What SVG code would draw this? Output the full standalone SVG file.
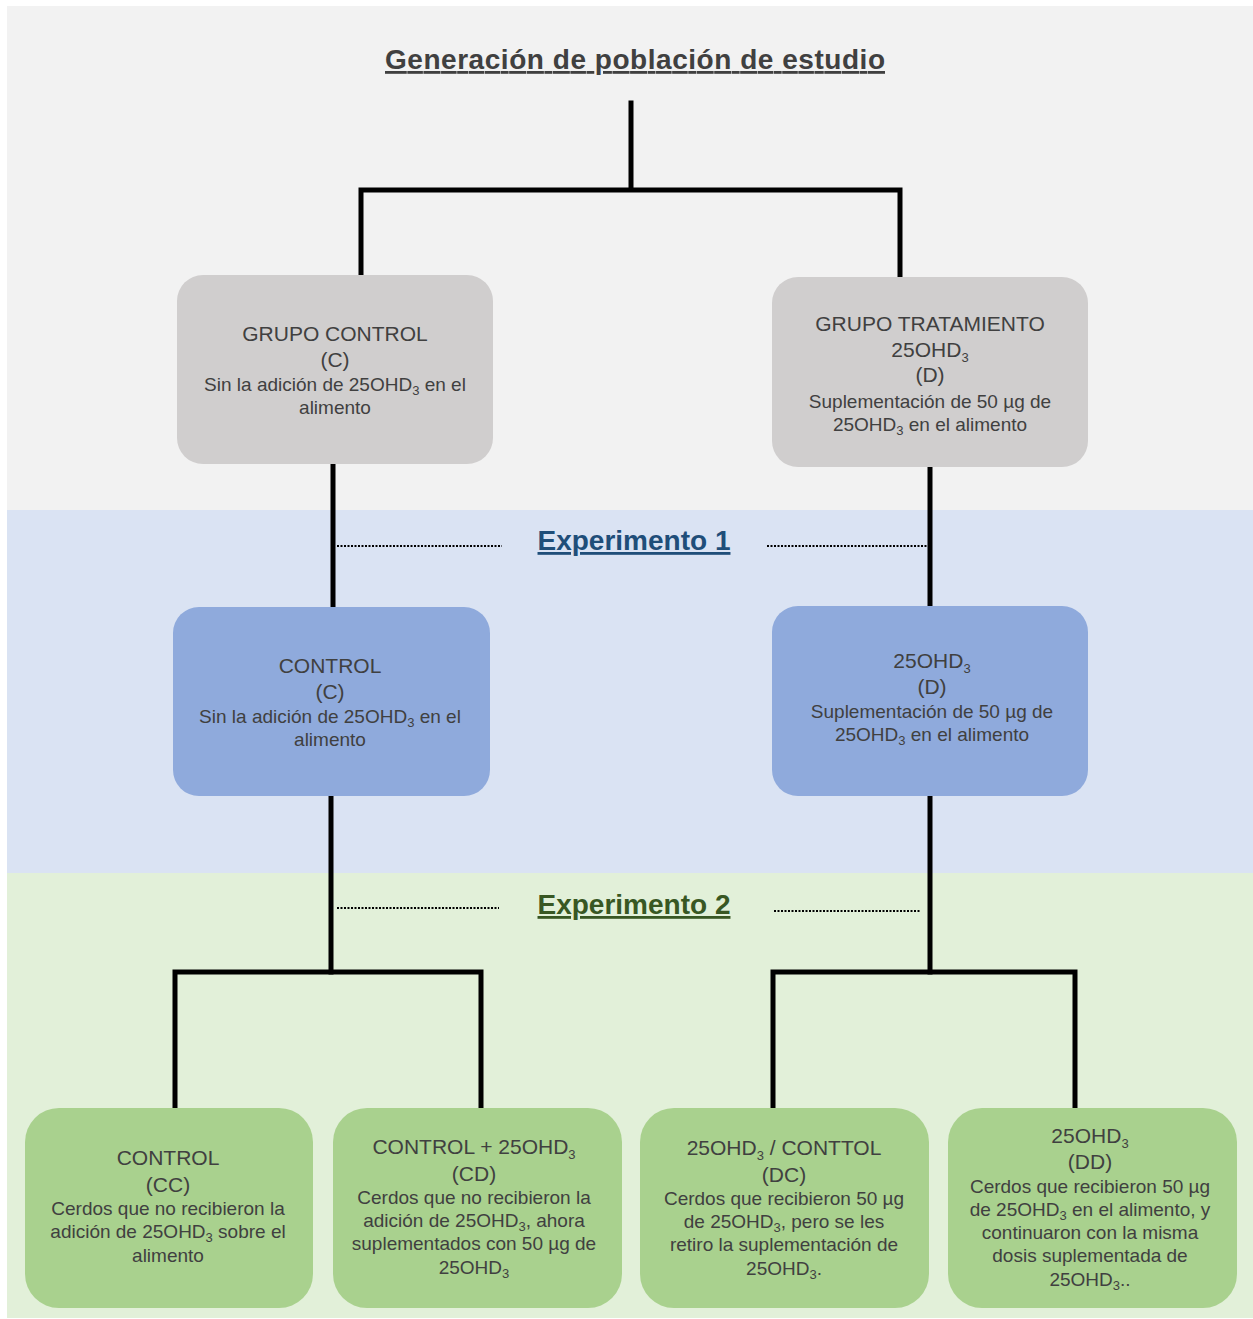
<svg xmlns="http://www.w3.org/2000/svg" width="1253" height="1319" viewBox="0 0 1253 1319">
<style>
text{font-family:"Liberation Sans",Arial,sans-serif;fill:#404040;text-anchor:middle}
.h{font-size:21px}
.b{font-size:19px}
.s{font-size:13px}
.ttl{font-size:28px;font-weight:bold;text-decoration:underline}
.ln{stroke:#000;stroke-width:5;fill:none;stroke-linecap:square}
.dot{stroke:#000;stroke-width:2;stroke-dasharray:2 1.5;fill:none}
.gray{fill:#D0CECE}
.blue{fill:#8FAADC}
.green{fill:#A9D18E}
</style>
<rect x="0" y="0" width="1253" height="1319" fill="#FFFFFF"/>
<rect x="7" y="6" width="1246" height="504" fill="#F2F2F2"/>
<rect x="7" y="510" width="1246" height="363" fill="#DAE3F3"/>
<rect x="7" y="873" width="1246" height="445" fill="#E2F0D9"/>

<text class="ttl" x="635" y="69" textLength="500">Generación de población de estudio</text>
<text class="ttl" x="634" y="550" style="fill:#1F4E79">Experimento 1</text>
<text class="ttl" x="634" y="914" style="fill:#385723">Experimento 2</text>

<g id="connectors">
<path class="ln" d="M631 103 V190 M361 190 H900 M361 190 V273 M900 190 V275"/>
<path class="ln" d="M333 466 V605 M930 469 V604"/>
<path class="ln" d="M331 798 V972 M930 798 V972"/>
<path class="ln" d="M175 972 H481 M175 972 V1106 M481 972 V1106"/>
<path class="ln" d="M773 972 H1075 M773 972 V1106 M1075 972 V1106"/>
<path class="dot" d="M337 546 H502 M767 546 H927"/>
<path class="dot" d="M337 908 H499 M774 911 H921"/>
</g>

<g id="grupo-control">
<rect class="gray" x="177" y="275" width="316" height="189" rx="26"/>
<text class="h" x="335" y="341">GRUPO CONTROL</text>
<text class="h" x="335" y="367">(C)</text>
<text class="b" x="335" y="391">Sin la adición de 25OHD<tspan class="s" dy="4">3</tspan><tspan dy="-4"> en el</tspan></text>
<text class="b" x="335" y="414">alimento</text>
</g>

<g id="grupo-tratamiento">
<rect class="gray" x="772" y="277" width="316" height="190" rx="26"/>
<text class="h" x="930" y="331">GRUPO TRATAMIENTO</text>
<text class="h" x="930" y="357">25OHD<tspan class="s" dy="5">3</tspan></text>
<text class="h" x="930" y="382">(D)</text>
<text class="b" x="930" y="408">Suplementación de 50 µg de</text>
<text class="b" x="930" y="431">25OHD<tspan class="s" dy="4">3</tspan><tspan dy="-4"> en el alimento</tspan></text>
</g>

<g id="exp1-control">
<rect class="blue" x="173" y="607" width="317" height="189" rx="26"/>
<text class="h" x="330" y="673">CONTROL</text>
<text class="h" x="330" y="699">(C)</text>
<text class="b" x="330" y="723">Sin la adición de 25OHD<tspan class="s" dy="4">3</tspan><tspan dy="-4"> en el</tspan></text>
<text class="b" x="330" y="746">alimento</text>
</g>

<g id="exp1-25ohd3">
<rect class="blue" x="772" y="606" width="316" height="190" rx="26"/>
<text class="h" x="932" y="668">25OHD<tspan class="s" dy="5">3</tspan></text>
<text class="h" x="932" y="694">(D)</text>
<text class="b" x="932" y="718">Suplementación de 50 µg de</text>
<text class="b" x="932" y="741">25OHD<tspan class="s" dy="4">3</tspan><tspan dy="-4"> en el alimento</tspan></text>
</g>

<g id="cc">
<rect class="green" x="25" y="1108" width="288" height="200" rx="34"/>
<text class="h" x="168" y="1165">CONTROL</text>
<text class="h" x="168" y="1192">(CC)</text>
<text class="b" x="168" y="1215">Cerdos que no recibieron la</text>
<text class="b" x="168" y="1238">adición de 25OHD<tspan class="s" dy="4">3</tspan><tspan dy="-4"> sobre el</tspan></text>
<text class="b" x="168" y="1262">alimento</text>
</g>

<g id="cd">
<rect class="green" x="333" y="1108" width="289" height="200" rx="34"/>
<text class="h" x="474" y="1154">CONTROL + 25OHD<tspan class="s" dy="5">3</tspan></text>
<text class="h" x="474" y="1181">(CD)</text>
<text class="b" x="474" y="1204">Cerdos que no recibieron la</text>
<text class="b" x="474" y="1227">adición de 25OHD<tspan class="s" dy="4">3</tspan><tspan dy="-4">, ahora</tspan></text>
<text class="b" x="474" y="1250">suplementados con 50 µg de</text>
<text class="b" x="474" y="1274">25OHD<tspan class="s" dy="4">3</tspan></text>
</g>

<g id="dc">
<rect class="green" x="640" y="1108" width="289" height="200" rx="34"/>
<text class="h" x="784" y="1155">25OHD<tspan class="s" dy="5">3</tspan><tspan dy="-5"> / CONTTOL</tspan></text>
<text class="h" x="784" y="1182">(DC)</text>
<text class="b" x="784" y="1205">Cerdos que recibieron 50 µg</text>
<text class="b" x="784" y="1228">de 25OHD<tspan class="s" dy="4">3</tspan><tspan dy="-4">, pero se les</tspan></text>
<text class="b" x="784" y="1251">retiro la suplementación de</text>
<text class="b" x="784" y="1275">25OHD<tspan class="s" dy="4">3</tspan><tspan dy="-4">.</tspan></text>
</g>

<g id="dd">
<rect class="green" x="948" y="1108" width="289" height="200" rx="34"/>
<text class="h" x="1090" y="1143">25OHD<tspan class="s" dy="5">3</tspan></text>
<text class="h" x="1090" y="1169">(DD)</text>
<text class="b" x="1090" y="1193">Cerdos que recibieron 50 µg</text>
<text class="b" x="1090" y="1216">de 25OHD<tspan class="s" dy="4">3</tspan><tspan dy="-4"> en el alimento, y</tspan></text>
<text class="b" x="1090" y="1239">continuaron con la misma</text>
<text class="b" x="1090" y="1262">dosis suplementada de</text>
<text class="b" x="1090" y="1286">25OHD<tspan class="s" dy="4">3</tspan><tspan dy="-4">..</tspan></text>
</g>
</svg>
